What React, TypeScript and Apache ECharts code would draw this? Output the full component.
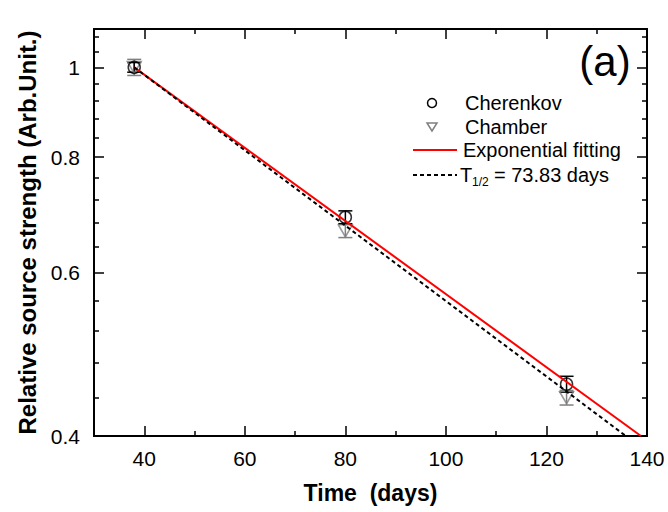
import React, { useEffect, useRef } from "react";
import * as echarts from "echarts";

const xMajorTicks = [40, 60, 80, 100, 120, 140];
const xMinorTicks = [50, 70, 90, 110, 130];
const yMajorTicks = [0.4, 0.6, 0.8, 1];
const yMinorTicks = [0.44, 0.48, 0.52, 0.56, 0.64, 0.68, 0.72, 0.76, 0.84, 0.88, 0.92, 0.96, 1.04, 1.08];

const days = [38, 80, 124];
const cherenkov = [1.0, 0.689, 0.455];
const cherenkovErr = [0.012, 0.011, 0.009];
const chamber = [1.0, 0.666, 0.44];
const chamberErr = [0.02, 0.011, 0.008];

const fitDays = [38, 138.8];
const fitValues = [1.0, 0.4];
const halfLifeDays = [38, 135.8];
const halfLifeValues = [1.0, 0.4];

const legendLabels = ["Cherenkov", "Chamber", "Exponential fitting"];

const FONT = "'Liberation Sans', Arial, sans-serif";
const L = (v: number) => Math.log10(v);
const X_MIN = 30;
const X_MAX = 140;
const Y_MIN = L(0.4);
const Y_MAX = L(1.1);

function xAxisDef(position: string, ticks: number[], len: number, withLabels: boolean) {
  return {
    type: "value",
    position,
    min: X_MIN,
    max: X_MAX,
    splitLine: { show: false },
    axisLine: { show: true, onZero: false, lineStyle: { color: "#000", width: 2 } },
    axisTick: { show: true, inside: true, length: len, customValues: ticks, lineStyle: { color: "#000", width: 1.5 } },
    axisLabel: withLabels
      ? { show: true, customValues: ticks, color: "#000", fontSize: 21, fontFamily: FONT, margin: 12 }
      : { show: false },
    ...(withLabels
      ? {
          name: "Time  (days)",
          nameLocation: "middle",
          nameGap: 45,
          nameTextStyle: { color: "#000", fontSize: 23, fontWeight: "bold", fontFamily: FONT },
        }
      : {}),
  };
}

function yAxisDef(position: string, ticks: number[], len: number, withLabels: boolean) {
  const t = ticks.map(L);
  return {
    type: "value",
    position,
    min: Y_MIN,
    max: Y_MAX,
    splitLine: { show: false },
    axisLine: { show: true, onZero: false, lineStyle: { color: "#000", width: 2 } },
    axisTick: { show: true, inside: true, length: len, customValues: t, lineStyle: { color: "#000", width: 1.5 } },
    axisLabel: withLabels
      ? {
          show: true,
          customValues: t,
          color: "#000",
          fontSize: 21,
          fontFamily: FONT,
          margin: 14,
          formatter: (v: number) => String(Math.round(Math.pow(10, v) * 100) / 100),
        }
      : { show: false },
    ...(withLabels
      ? {
          name: "Relative source strength (Arb.Unit.)",
          nameLocation: "middle",
          nameGap: 54,
          nameTextStyle: { color: "#000", fontSize: 24, fontWeight: "bold", fontFamily: FONT },
        }
      : {}),
  };
}

function errorSeries(values: number[], errs: number[], color: string) {
  return {
    type: "custom",
    xAxisIndex: 0,
    yAxisIndex: 0,
    encode: { x: 0, y: [1, 2] },
    data: days.map((d, i) => [d, L(values[i] - errs[i]), L(values[i] + errs[i])]),
    renderItem: (params: any, api: any) => {
      const x = api.value(0);
      const p1 = api.coord([x, api.value(2)]);
      const p2 = api.coord([x, api.value(1)]);
      const w = 7;
      const st = { stroke: color, lineWidth: 1.5 };
      return {
        type: "group",
        children: [
          { type: "line", shape: { x1: p1[0], y1: p1[1], x2: p2[0], y2: p2[1] }, style: st },
          { type: "line", shape: { x1: p1[0] - w, y1: p1[1], x2: p1[0] + w, y2: p1[1] }, style: st },
          { type: "line", shape: { x1: p2[0] - w, y1: p2[1], x2: p2[0] + w, y2: p2[1] }, style: st },
        ],
      };
    },
    z: 3,
  };
}

export default function App() {
  const ref = useRef<HTMLDivElement>(null);
  useEffect(() => {
    if (!ref.current) return;
    const chart = echarts.init(ref.current, undefined, { renderer: "svg" });
    const textStyle = (text: string, size: number) => ({
      text,
      fontSize: size,
      fontFamily: FONT,
      fill: "#000",
      verticalAlign: "middle",
      align: "left",
    });
    chart.setOption({
      animation: false,
      backgroundColor: "#fff",
      grid: { left: 94, right: 21, top: 29, bottom: 76, containLabel: false },
      xAxis: [
        xAxisDef("bottom", xMajorTicks, 10, true),
        xAxisDef("bottom", xMinorTicks, 5, false),
        xAxisDef("top", xMajorTicks, 10, false),
        xAxisDef("top", xMinorTicks, 5, false),
      ],
      yAxis: [
        yAxisDef("left", yMajorTicks, 10, true),
        yAxisDef("left", yMinorTicks, 5, false),
        yAxisDef("right", yMajorTicks, 10, false),
        yAxisDef("right", yMinorTicks, 5, false),
      ],
      series: [
        errorSeries(chamber, chamberErr, "#808080"),
        {
          type: "scatter",
          name: legendLabels[1],
          data: days.map((d, i) => [d, L(chamber[i])]),
          symbol: "triangle",
          symbolRotate: 180,
          symbolSize: [14, 12],
          itemStyle: { color: "rgba(0,0,0,0)", borderColor: "#808080", borderWidth: 1.5 },
          z: 4,
        },
        errorSeries(cherenkov, cherenkovErr, "#000"),
        {
          type: "scatter",
          name: legendLabels[0],
          data: days.map((d, i) => [d, L(cherenkov[i])]),
          symbol: "circle",
          symbolSize: 12,
          itemStyle: { color: "rgba(0,0,0,0)", borderColor: "#000", borderWidth: 1.5 },
          z: 5,
        },
        {
          type: "line",
          name: legendLabels[2],
          data: fitDays.map((d, i) => [d, L(fitValues[i])]),
          symbol: "none",
          lineStyle: { color: "#ff0000", width: 2 },
          z: 6,
        },
        {
          type: "line",
          name: "T1/2",
          data: halfLifeDays.map((d, i) => [d, L(halfLifeValues[i])]),
          symbol: "none",
          lineStyle: { color: "#000", width: 2, type: [4, 3] },
          z: 6,
        },
      ],
      graphic: [
        { type: "text", x: 605, y: 61, style: { text: "(a)", fontSize: 42, fontFamily: FONT, fill: "#000", align: "center", verticalAlign: "middle" } },
        { type: "circle", shape: { cx: 432, cy: 103, r: 4.5 }, style: { fill: "none", stroke: "#000", lineWidth: 1.5 } },
        { type: "text", x: 465, y: 103, style: textStyle(legendLabels[0], 20) },
        { type: "polygon", shape: { points: [[427, 123], [437, 123], [432, 131]] }, style: { fill: "none", stroke: "#808080", lineWidth: 1.5 } },
        { type: "text", x: 465, y: 127, style: textStyle(legendLabels[1], 20) },
        { type: "line", shape: { x1: 413, y1: 150, x2: 457, y2: 150 }, style: { stroke: "#ff0000", lineWidth: 2 } },
        { type: "text", x: 463, y: 150, style: textStyle(legendLabels[2], 20) },
        { type: "line", shape: { x1: 413, y1: 175, x2: 457, y2: 175 }, style: { stroke: "#000", lineWidth: 2, lineDash: [4, 3] } },
        { type: "text", x: 460, y: 175, style: textStyle("T", 20) },
        { type: "text", x: 472, y: 182, style: textStyle("1/2", 12) },
        { type: "text", x: 494, y: 175, style: textStyle("= 73.83 days", 20) },
      ],
    });
    return () => chart.dispose();
  }, []);
  return <div ref={ref} style={{ position: "fixed", left: 0, top: 0, width: 668, height: 512 }} />;
}
